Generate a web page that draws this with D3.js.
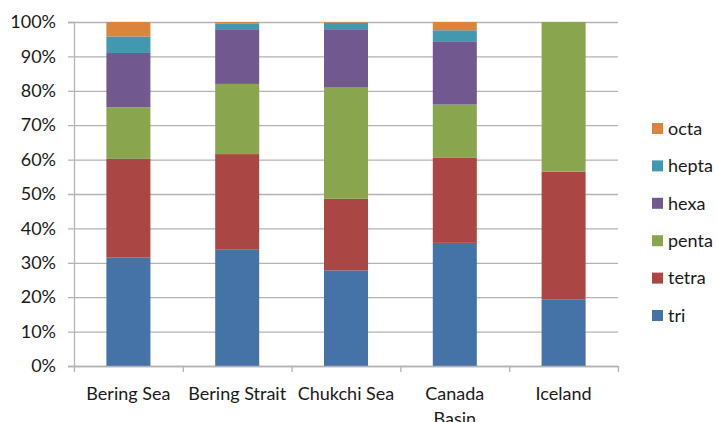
<!DOCTYPE html>
<html><head><meta charset="utf-8">
<script src="https://cdn.jsdelivr.net/npm/d3@7"></script>
<style>body{margin:0;background:#fff;overflow:hidden}svg{display:block}text{font-family:Lato,"Open Sans",sans-serif;fill:#1a1a1a}</style>
</head><body><svg id="c" width="717" height="422"></svg>
<script>
const categories = ["Bering Sea", "Bering Strait", "Chukchi Sea", "Canada Basin", "Iceland"];
const seriesNames = ["tri", "tetra", "penta", "hexa", "hepta", "octa"];
const tri   = [31.5, 33.8, 27.8, 35.8, 19.4];
const tetra = [28.7, 27.8, 20.8, 24.7, 37.1];
const penta = [15.0, 20.4, 32.5, 15.5, 43.5];
const hexa  = [15.8, 15.9, 16.8, 18.4, 0];
const hepta = [4.8, 1.7, 1.9, 3.2, 0];
const octa  = [4.2, 0.4, 0.2, 2.4, 0];
const yTicks = [0,10,20,30,40,50,60,70,80,90,100];
const colors = ["#4572A7", "#AA4643", "#89A54E", "#71588F", "#4198AF", "#DB843D"];

const seriesVals = {tri, tetra, penta, hexa, hepta, octa};
const rows = categories.map((c,i)=>{const r={cat:c}; seriesNames.forEach(s=>r[s]=seriesVals[s][i]); return r;});
const stack = d3.stack().keys(seriesNames)(rows);

const svg = d3.select("#c");
const L=74, R=618, T=22, B=366;
const x = d3.scaleBand().domain(categories).range([L,R]);
const y = d3.scaleLinear().domain([0,100]).range([B,T]);
const barW = 44;
const grid = "#b3b3b3";

// gridlines
svg.append("g").selectAll("line").data(yTicks).join("line")
  .attr("x1",L-6).attr("x2",R).attr("y1",d=>y(d)+0.5).attr("y2",d=>y(d)+0.5)
  .attr("stroke",grid).attr("stroke-width",1.3);

// bars
const col = d3.scaleOrdinal().domain(seriesNames).range(colors);
svg.append("g").selectAll("g").data(stack).join("g").attr("fill",d=>col(d.key))
  .selectAll("rect").data(d=>d).join("rect")
  .attr("x",d=>x(d.data.cat)+x.bandwidth()/2-barW/2).attr("width",barW)
  .attr("y",d=>y(d[1])).attr("height",d=>Math.max(0,y(d[0])-y(d[1])));

// y axis
const ya = svg.append("g").attr("transform",`translate(${L},0)`)
  .call(d3.axisLeft(y).tickValues(yTicks).tickFormat(d=>d+"%").tickSize(6).tickPadding(12));
ya.select(".domain").attr("stroke",grid).attr("stroke-width",1.3);
ya.selectAll(".tick line").remove();
ya.selectAll("text").style("font-size","18px").attr("fill","#1a1a1a");

// x axis
const xa = svg.append("g").attr("transform",`translate(0,${B})`)
  .call(d3.axisBottom(x).tickSize(0).tickPadding(0));
xa.select(".domain").remove();
xa.selectAll(".tick text").remove();
const edges = categories.map(c=>x(c)).concat([R]);
xa.selectAll("line.sep").data(edges).join("line").attr("class","sep")
  .attr("x1",d=>d+0.5).attr("x2",d=>d+0.5).attr("y1",0).attr("y2",6)
  .attr("stroke",grid).attr("stroke-width",1.3);
xa.append("line").attr("x1",L).attr("x2",R).attr("y1",0.5).attr("y2",0.5).attr("stroke",grid).attr("stroke-width",1.3);
categories.forEach(c=>{
  const words = c==="Canada Basin" ? ["Canada","Basin"] : [c];
  const t = xa.append("text").attr("text-anchor","middle").style("font-size","18px").attr("fill","#1a1a1a");
  words.forEach((w,i)=>t.append("tspan").attr("x",x(c)+x.bandwidth()/2).attr("y",33.5+i*25.5).text(w));
});

// legend
const leg = svg.append("g");
const legOrder = seriesNames.slice().reverse();
legOrder.forEach((s,i)=>{
  const cy = 128.5 + i*37.4;
  leg.append("rect").attr("x",652).attr("y",cy-5.5).attr("width",11).attr("height",11).attr("fill",col(s));
  leg.append("text").attr("x",668).attr("y",cy).attr("dy","0.35em").style("font-size","18px").attr("fill","#1a1a1a").text(s);
});
</script></body></html>
